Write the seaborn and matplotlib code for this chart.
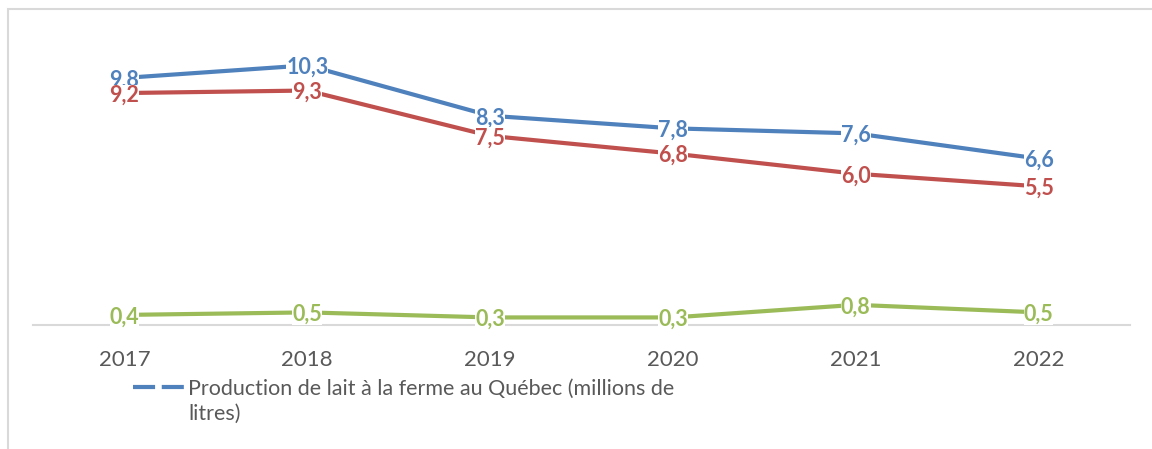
import pandas as pd
import seaborn as sns
import matplotlib.pyplot as plt
from matplotlib.lines import Line2D
from matplotlib.patches import Rectangle

years = ["2017", "2018", "2019", "2020", "2021", "2022"]
production = [9.8, 10.3, 8.3, 7.8, 7.6, 6.6]
serie_rouge = [9.2, 9.3, 7.5, 6.8, 6.0, 5.5]
serie_verte = [0.4, 0.5, 0.3, 0.3, 0.8, 0.5]
legend_label = "Production de lait à la ferme au Québec (millions de"
legend_label_2 = "litres)"

blue, red, green = "#4F81BD", "#C0504D", "#9BBB59"
grey_text = "#595959"

sns.set_theme(style="white")
plt.rcParams["font.family"] = ["Lato", "DejaVu Sans"]

series = {"production": production, "rouge": serie_rouge, "verte": serie_verte}
colors = {"production": blue, "rouge": red, "verte": green}
label_z = {"production": 5, "rouge": 6, "verte": 7}
df = pd.concat([pd.DataFrame({"year": years, "value": v, "series": k})
                for k, v in series.items()], ignore_index=True)

fig = plt.figure(figsize=(11.52, 4.49), dpi=100)
ax = fig.add_axes([33 / 1152, 124 / 449, (1130 - 33) / 1152, 0.95 - 124 / 449])

sns.lineplot(data=df, x="year", y="value", hue="series", palette=colors,
             sort=False, linewidth=3, legend=False, ax=ax)

for k, vals in series.items():
    for i, v in enumerate(vals):
        ax.text(i, v, f"{v:.1f}".replace(".", ","), ha="center",
                va="center_baseline", fontsize=15.5, fontweight="bold",
                color=colors[k], zorder=label_z[k],
                bbox=dict(boxstyle="square,pad=0.0", fc="white", ec="none"))

ax.set_xlim(-0.5, 5.5)
ax.set_ylim(0, 12)
ax.set_xlabel("")
ax.set_ylabel("")
ax.set_yticks([])
for s in ["top", "right", "left"]:
    ax.spines[s].set_visible(False)
ax.spines["bottom"].set_color("#D9D9D9")
ax.spines["bottom"].set_linewidth(1.5)
ax.tick_params(axis="x", colors=grey_text, labelsize=16, length=0, pad=18)

handle = Line2D([], [], color=blue, lw=3, ls=(0, (5.3, 1.6)))
leg = fig.legend(handles=[handle], labels=[legend_label], loc="upper left",
                 bbox_to_anchor=(133 / 1152, 1 - 379 / 449), frameon=False,
                 fontsize=15.5, handlelength=2.45, handletextpad=0.12,
                 borderpad=0, borderaxespad=0)
for t in leg.get_texts():
    t.set_color(grey_text)

fig.canvas.draw()
bb = leg.get_texts()[0].get_window_extent()
fig.text(bb.x0 / 1152, (bb.y0 - 25) / 449, legend_label_2, fontsize=15.5,
         color=grey_text, ha="left", va="bottom")

fig.patches.append(Rectangle((8 / 1152, -0.1), 1.2, 0.1 + (449 - 9) / 449,
                             transform=fig.transFigure, fill=False,
                             edgecolor="#D9D9D9", lw=1.5))

fig.savefig("out.png", dpi=100)
